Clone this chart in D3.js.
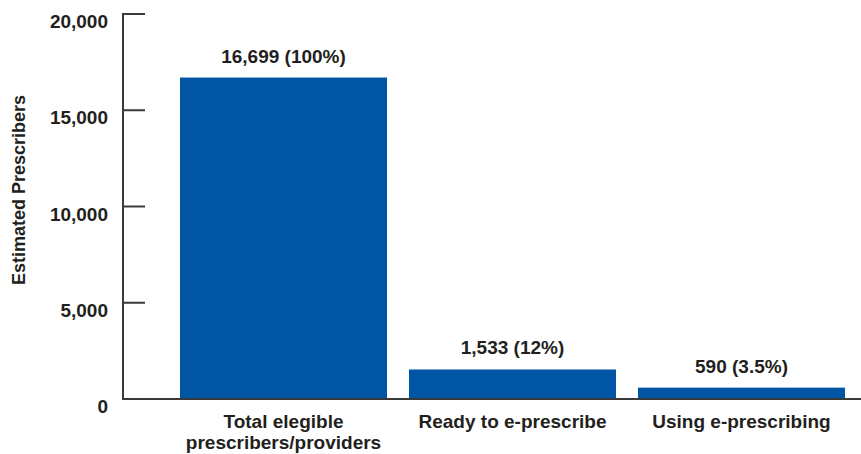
<!DOCTYPE html>
<html>
<head>
<meta charset="utf-8">
<script src="https://cdn.jsdelivr.net/npm/d3@7"></script>
<style>
  body { margin: 0; background: #fff; }
  text { font-family: "Liberation Sans", Arial, sans-serif; font-weight: bold; fill: #231f20; }
</style>
</head>
<body>
<div id="vis"></div>
<script>
// Data ----------------------------------------------------------------------

var categories = [["Total elegible", "prescribers/providers"], ["Ready to e-prescribe"], ["Using e-prescribing"]];
var values = [16699, 1533, 590];
var valueLabels = ["16,699 (100%)", "1,533 (12%)", "590 (3.5%)"];
var yTicks = [0, 5000, 10000, 15000, 20000];

// Setup ---------------------------------------------------------------------

var width = 861, height = 454;
var axisX = 123, y0 = 399, yTop = 14;

var svg = d3.select("#vis").append("svg")
  .attr("width", width)
  .attr("height", height);

var x = d3.scaleBand()
  .domain(d3.range(values.length))
  .range([169, 856])
  .paddingInner(0.096)
  .paddingOuter(0.048);

var y = d3.scaleLinear()
  .domain([0, 20000])
  .range([y0, yTop]);

var fmt = d3.format(",");

// Bars ----------------------------------------------------------------------

svg.selectAll(".bar")
  .data(values)
  .enter().append("rect")
  .attr("class", "bar")
  .attr("x", function(d, i) { return x(i); })
  .attr("y", function(d) { return y(d); })
  .attr("width", x.bandwidth())
  .attr("height", function(d) { return y(0) - y(d); })
  .attr("fill", "#0055a5");

// Axes ----------------------------------------------------------------------

// baseline across the full width
svg.append("line")
  .attr("x1", axisX).attr("x2", width)
  .attr("y1", y(0)).attr("y2", y(0))
  .attr("stroke", "#3a3a3a").attr("stroke-width", 2);

svg.append("line")
  .attr("x1", axisX).attr("x2", axisX)
  .attr("y1", y(20000) - 1).attr("y2", y(0) + 1)
  .attr("stroke", "#3a3a3a").attr("stroke-width", 2);

svg.selectAll(".tick")
  .data(yTicks)
  .enter().append("line")
  .attr("class", "tick")
  .attr("x1", axisX).attr("x2", axisX + 22)
  .attr("y1", function(d) { return y(d); })
  .attr("y2", function(d) { return y(d); })
  .attr("stroke", "#3a3a3a").attr("stroke-width", 2);

svg.selectAll(".ylab")
  .data(yTicks)
  .enter().append("text")
  .attr("class", "ylab")
  .attr("x", 108)
  .attr("y", function(d) { return y(d) + 14; })
  .attr("text-anchor", "end")
  .style("font-size", "19px")
  .text(function(d) { return fmt(d); });

svg.append("text")
  .attr("transform", "translate(25,190) rotate(-90)")
  .attr("text-anchor", "middle")
  .style("font-size", "18px")
  .text("Estimated Prescribers");

// Labels --------------------------------------------------------------------

svg.selectAll(".vlab")
  .data(values)
  .enter().append("text")
  .attr("class", "vlab")
  .attr("x", function(d, i) { return x(i) + x.bandwidth() / 2; })
  .attr("y", function(d) { return y(d) - 15; })
  .attr("text-anchor", "middle")
  .style("font-size", "19px")
  .text(function(d, i) { return valueLabels[i]; });

var cat = svg.selectAll(".xlab")
  .data(categories)
  .enter().append("text")
  .attr("class", "xlab")
  .attr("text-anchor", "middle")
  .style("font-size", "19px");

cat.selectAll("tspan")
  .data(function(d, i) { return d.map(function(s) { return {s: s, i: i}; }); })
  .enter().append("tspan")
  .attr("x", function(d) { return x(d.i) + x.bandwidth() / 2; })
  .attr("y", function(d, j) { return 428 + j * 21; })
  .text(function(d) { return d.s; });
</script>
</body>
</html>
